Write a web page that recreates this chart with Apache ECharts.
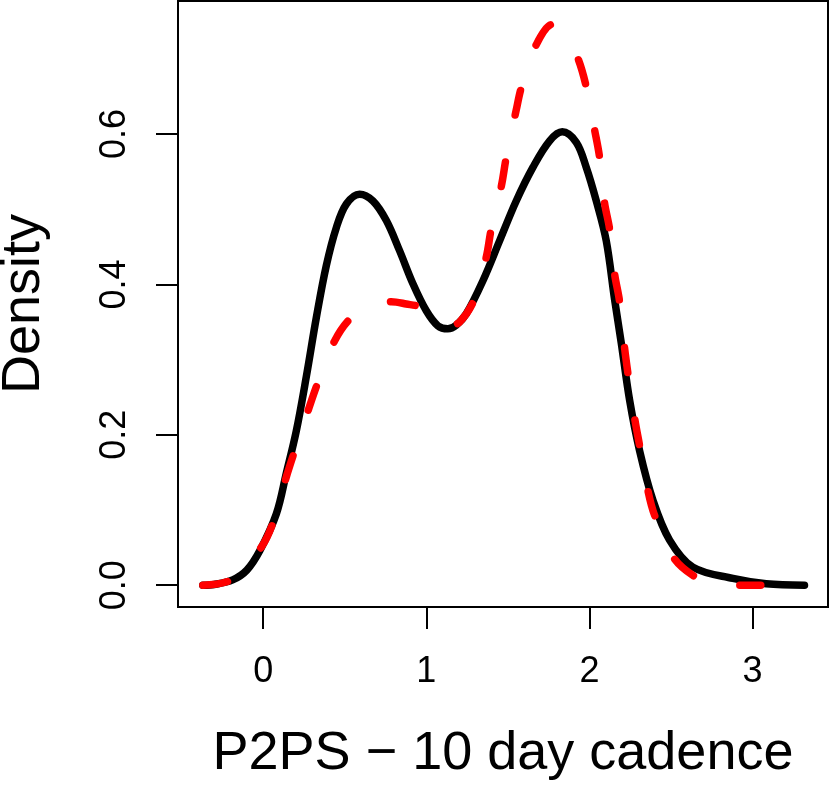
<!DOCTYPE html>
<html lang="en">
<head>
    <meta charset="UTF-8">
    <title>P2PS density</title>
    <style>
        html, body { margin: 0; padding: 0; background: #fff; }
        #main { width: 830px; height: 786px; }
    </style>
    <script src="https://cdn.jsdelivr.net/npm/echarts@6.0.0/dist/echarts.min.js"></script>
</head>
<body>
<div id="main"></div>
<script type="text/javascript">
    // density curves
    var blackX = [-0.37, -0.30, -0.187, -0.10, -0.02, 0.081, 0.142, 0.203, 0.265, 0.326, 0.387, 0.449, 0.51, 0.591, 0.673, 0.755, 0.836, 0.918, 1.0, 1.071, 1.132, 1.184, 1.245, 1.347, 1.449, 1.551, 1.654, 1.756, 1.833, 1.919, 1.98, 2.042, 2.103, 2.154, 2.195, 2.246, 2.307, 2.389, 2.491, 2.634, 2.879, 3.083, 3.318];
    var blackY = [0.0, 0.001, 0.007, 0.02, 0.046, 0.095, 0.149, 0.205, 0.278, 0.356, 0.425, 0.476, 0.507, 0.520, 0.511, 0.485, 0.445, 0.401, 0.365, 0.345, 0.341, 0.346, 0.361, 0.405, 0.458, 0.511, 0.556, 0.591, 0.603, 0.589, 0.556, 0.511, 0.458, 0.380, 0.322, 0.246, 0.179, 0.113, 0.060, 0.024, 0.009, 0.002, 0.0];

    var redX = [-0.37, -0.187, -0.01, 0.07, 0.142, 0.203, 0.275, 0.336, 0.438, 0.54, 0.65, 0.785, 0.877, 0.959, 1.08, 1.14, 1.204, 1.296, 1.368, 1.398, 1.46, 1.49, 1.551, 1.585, 1.674, 1.775, 1.85, 1.927, 1.979, 2.031, 2.062, 2.092, 2.123, 2.154, 2.184, 2.215, 2.235, 2.276, 2.307, 2.358, 2.399, 2.511, 2.634, 2.75, 2.9, 3.05];
    var redY = [0.0, 0.008, 0.051, 0.089, 0.144, 0.185, 0.232, 0.270, 0.325, 0.356, 0.370, 0.377, 0.374, 0.370, 0.352, 0.346, 0.350, 0.381, 0.437, 0.474, 0.531, 0.569, 0.632, 0.664, 0.719, 0.746, 0.735, 0.702, 0.664, 0.606, 0.569, 0.509, 0.474, 0.414, 0.378, 0.316, 0.283, 0.223, 0.186, 0.126, 0.093, 0.038, 0.013, 0.004, 0.0, 0.0];

    var xTicks = [0, 1, 2, 3];
    var yTicks = [0, 0.2, 0.4, 0.6];

    function zip(xs, ys) {
        var out = [];
        for (var i = 0; i < xs.length; i++) out.push([xs[i], ys[i]]);
        return out;
    }

    var myChart = echarts.init(document.getElementById('main'));
    var font = '"Liberation Sans", Arial, Helvetica, sans-serif';

    var option = {
        animation: false,
        grid: {
            left: 178, right: 2, top: 1, bottom: 179,
            outerBoundsMode: 'none',
            containLabel: false,
            show: true, borderColor: '#000', borderWidth: 2
        },
        xAxis: {
            type: 'value',
            min: -0.522, max: 3.462,
            name: 'P2PS \u2212 10 day cadence',
            nameLocation: 'middle',
            nameGap: 120,
            nameTextStyle: { fontFamily: font, fontSize: 54, color: '#000' },
            axisLine: { show: false, onZero: false },
            splitLine: { show: false },
            axisTick: {
                show: true, inside: false, length: 22,
                customValues: xTicks,
                lineStyle: { color: '#000', width: 2 }
            },
            axisLabel: {
                customValues: xTicks,
                margin: 47,
                fontFamily: font, fontSize: 36, color: '#000',
                formatter: function (v) { return String(v); }
            }
        },
        yAxis: {
            type: 'value',
            min: -0.029, max: 0.777,
            name: 'Density',
            nameLocation: 'middle',
            nameGap: 127,
            nameTextStyle: { fontFamily: font, fontSize: 54, color: '#000' },
            axisLine: { show: false, onZero: false },
            splitLine: { show: false },
            axisTick: {
                show: true, inside: false, length: 22,
                customValues: yTicks,
                lineStyle: { color: '#000', width: 2 }
            },
            axisLabel: {
                customValues: yTicks,
                rotate: 90,
                margin: 45,
                fontFamily: font, fontSize: 36, color: '#000',
                formatter: function (v) { return v.toFixed(1); }
            }
        },
        series: [{
            name: 'black',
            type: 'line',
            showSymbol: false,
            smooth: 0.35,
            data: zip(blackX, blackY),
            lineStyle: { color: '#000', width: 7.5, cap: 'round', join: 'round' }
        }, {
            name: 'red',
            type: 'line',
            showSymbol: false,
            smooth: 0.35,
            data: zip(redX, redY),
            lineStyle: { color: '#ff0000', width: 7.5, type: [25, 48], cap: 'round', join: 'round' }
        }]
    };
    myChart.setOption(option);
</script>
</body>
</html>
